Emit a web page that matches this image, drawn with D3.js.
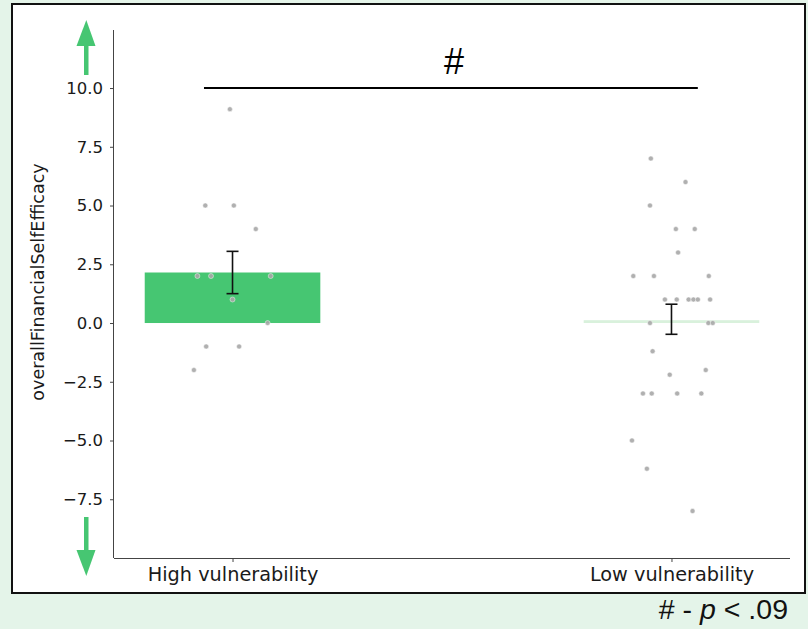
<!DOCTYPE html>
<html>
<head>
<meta charset="utf-8">
<script src="https://cdn.jsdelivr.net/npm/d3@7"></script>
<style>
  body { margin: 0; background: #e4f4e9; }
  svg { display: block; }
  .tick text { font-family: "DejaVu Sans", sans-serif; fill: #1a1a1a; }
</style>
</head>
<body>
<div id="chart"></div>
<script>
// groups and bar summaries (mean, error bar bounds)
const categories = ['High vulnerability', 'Low vulnerability'];
const barMeans = [2.15, 0.12];
const errLow = [1.25, -0.48];
const errHigh = [3.05, 0.8];
const barColors = ['#46c672', '#d9f1dc'];

// individual responses per group, with the strip jitter
const highValues = [9.1, 5, 5, 4, 2, 2, 2, 1, 0, -1, -1, -2];
const highJitter = [-0.006, -0.062, 0.003, 0.053, -0.08, -0.049, 0.087, 0.0, 0.08, -0.06, 0.015, -0.088];
const lowValues = [7, 6, 5, 4, 4, 3, 2, 2, 2, 1, 1, 1, 1, 1, 1, 0, 0, 0,
    -1.2, -2, -2.2, -3, -3, -3, -3, -5, -6.2, -8];
const lowJitter = [-0.047, 0.032, -0.049, 0.01, 0.053, 0.015, -0.087, -0.04, 0.085,
    -0.015, 0.012, 0.039, 0.05, 0.06, 0.088, -0.049, 0.084, 0.094,
    -0.043, 0.078, -0.004, -0.065, -0.045, 0.013, 0.068, -0.09, -0.056, 0.048];

const yTicks = [-7.5, -5, -2.5, 0, 2.5, 5, 7.5, 10];

const W = 808, H = 629;
const svg = d3.select('#chart').append('svg')
    .attr('width', W)
    .attr('height', H);

// white panel with black frame
svg.append('rect')
    .attr('x', 12).attr('y', 4)
    .attr('width', 793).attr('height', 589)
    .attr('fill', 'white')
    .attr('stroke', '#111')
    .attr('stroke-width', 2);

const plot = { left: 114, right: 790, top: 30, bottom: 558 };

const x = d3.scaleLinear()
    .domain([-0.27, 1.27])
    .range([plot.left, plot.right]);

const y = d3.scaleLinear()
    .domain([-10, 12.47])
    .range([plot.bottom, plot.top]);

const barWidth = x(0.4) - x(0);

// bars
svg.selectAll('.bar')
    .data(barMeans)
    .join('rect')
    .attr('class', 'bar')
    .attr('x', (d, i) => x(i) - barWidth / 2)
    .attr('width', barWidth)
    .attr('y', d => y(Math.max(0, d)))
    .attr('height', d => Math.abs(y(0) - y(d)))
    .attr('fill', (d, i) => barColors[i]);

// strip points
const points = [
    ...highValues.map((v, i) => ({ g: 0, v, j: highJitter[i] })),
    ...lowValues.map((v, i) => ({ g: 1, v, j: lowJitter[i] }))
];
svg.selectAll('.point')
    .data(points)
    .join('circle')
    .attr('class', 'point')
    .attr('cx', d => x(d.g + d.j))
    .attr('cy', d => y(d.v))
    .attr('r', 2.5)
    .attr('fill', '#a8a8a8')
    .attr('stroke', 'white')
    .attr('stroke-width', 0.5)
    .attr('opacity', 0.9);

// error bars
const err = svg.selectAll('.err')
    .data(barMeans.map((m, i) => ({ i, lo: errLow[i], hi: errHigh[i] })))
    .join('g')
    .attr('class', 'err')
    .attr('stroke', '#111')
    .attr('stroke-width', 1.6);
err.append('line')
    .attr('x1', d => x(d.i)).attr('x2', d => x(d.i))
    .attr('y1', d => y(d.lo)).attr('y2', d => y(d.hi));
err.append('line')
    .attr('x1', d => x(d.i) - 6).attr('x2', d => x(d.i) + 6)
    .attr('y1', d => y(d.lo)).attr('y2', d => y(d.lo));
err.append('line')
    .attr('x1', d => x(d.i) - 6).attr('x2', d => x(d.i) + 6)
    .attr('y1', d => y(d.hi)).attr('y2', d => y(d.hi));

// axes
const yAxis = d3.axisLeft(y)
    .tickValues(yTicks)
    .tickSize(4)
    .tickPadding(7)
    .tickFormat(d => d3.format('.1f')(d).replace('-', '\u2212'));
svg.append('g')
    .attr('transform', `translate(${plot.left},0)`)
    .call(yAxis)
    .call(g => g.select('.domain').attr('stroke', '#444').attr('d', `M-0.5,${plot.top}V${plot.bottom}`))
    .call(g => g.selectAll('.tick line').attr('stroke', '#444'))
    .call(g => g.selectAll('.tick text').attr('font-size', 16.5));

const xAxis = d3.axisBottom(x)
    .tickValues([0, 1])
    .tickSize(4)
    .tickPadding(5)
    .tickFormat(i => categories[i]);
svg.append('g')
    .attr('transform', `translate(0,${plot.bottom})`)
    .call(xAxis)
    .call(g => g.select('.domain').attr('stroke', '#444').attr('d', `M${plot.left},0.5H${plot.right}`))
    .call(g => g.selectAll('.tick line').attr('stroke', '#444'))
    .call(g => g.selectAll('.tick text').attr('font-size', 19.3));

// y label
svg.append('text')
    .attr('transform', `translate(44,282) rotate(-90)`)
    .attr('text-anchor', 'middle')
    .attr('font-family', 'DejaVu Sans, sans-serif')
    .attr('font-size', 17.5)
    .attr('fill', '#1a1a1a')
    .text('overallFinancialSelfEfficacy');

// significance bracket
const sigY = 10;
svg.append('line')
    .attr('x1', x(-0.065)).attr('x2', x(1.06))
    .attr('y1', y(sigY)).attr('y2', y(sigY))
    .attr('stroke', '#000')
    .attr('stroke-width', 2);
svg.append('text')
    .attr('x', 454)
    .attr('y', 74)
    .attr('text-anchor', 'middle')
    .attr('font-family', 'Liberation Sans, Arial, sans-serif')
    .attr('font-size', 36)
    .text('#');

// direction arrows
const green = '#46c672';
const arrow = svg.append('g').attr('fill', green);
arrow.append('rect').attr('x', 84).attr('y', 44).attr('width', 4.5).attr('height', 31);
arrow.append('path').attr('d', 'M86.3,20 L95.5,46 L76.5,46 Z');
arrow.append('rect').attr('x', 84).attr('y', 517).attr('width', 4.5).attr('height', 35);
arrow.append('path').attr('d', 'M86.3,576 L95.5,550 L76.5,550 Z');

// footnote
const foot = svg.append('text')
    .attr('x', 788)
    .attr('y', 619)
    .attr('text-anchor', 'end')
    .attr('font-family', 'Liberation Sans, Arial, sans-serif')
    .attr('font-size', 28.5)
    .attr('fill', '#111');
foot.append('tspan').text('# - ');
foot.append('tspan').attr('font-style', 'italic').text('p');
foot.append('tspan').text(' < .09');
</script>
</body>
</html>
